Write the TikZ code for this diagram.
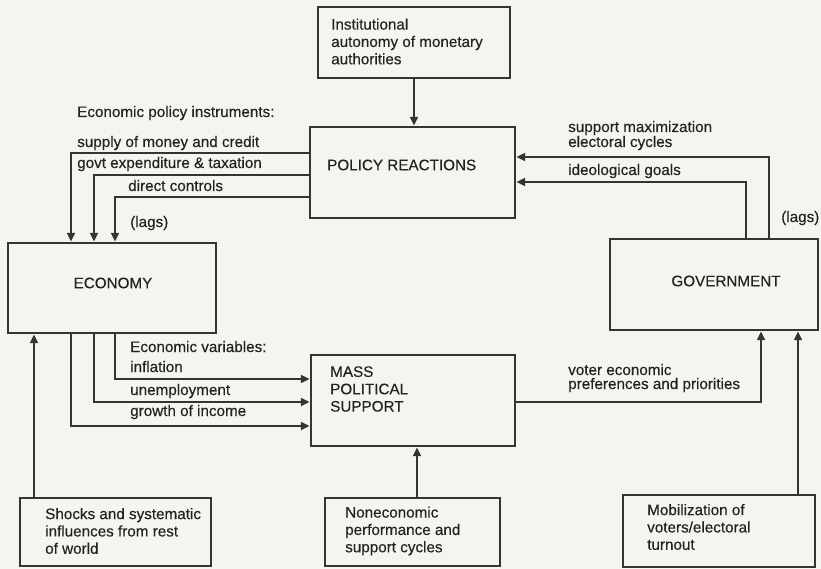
\documentclass[tikz,border=0pt]{standalone}
\usepackage{fontspec}
\setmainfont{Liberation Sans}[FakeBold=0.3]
\usetikzlibrary{arrows.meta}
\definecolor{paper}{RGB}{246,244,239}
\definecolor{ink}{RGB}{52,52,52}
\definecolor{txt}{RGB}{34,34,34}
\begin{document}
\begin{tikzpicture}[x=0.03cm,y=-0.03cm,
  box/.style={draw=ink,line width=2.2pt,inner sep=0pt},
  boxtext/.style={text=txt,align=left,inner sep=0pt,anchor=west,
    font=\fontsize{13}{14.8}\selectfont},
  lbl/.style={text=txt,inner sep=0pt,anchor=base west,
    font=\fontsize{13}{13}\selectfont},
  arr/.style={draw=ink,line width=1.9pt,-{Triangle[length=7.5pt,width=6.5pt]}}]
\fill[paper] (0,0) rectangle (821,569);
\useasboundingbox (0,0) rectangle (821,569);

% boxes
\node[box,minimum width=5.76cm,minimum height=2.13cm] (inst) at (414,42.5) {};
\node[box,minimum width=6.15cm,minimum height=2.73cm] (pol) at (412.5,172.5) {};
\node[box,minimum width=6.24cm,minimum height=2.70cm] (econ) at (112,288) {};
\node[box,minimum width=6.24cm,minimum height=2.73cm] (gov) at (714,284.5) {};
\node[box,minimum width=6.12cm,minimum height=2.73cm] (mass) at (413,400.5) {};
\node[box,minimum width=5.73cm,minimum height=2.04cm] (shocks) at (115.5,532) {};
\node[box,minimum width=5.25cm,minimum height=2.04cm] (nonec) at (412.5,532) {};
\node[box,minimum width=5.76cm,minimum height=2.16cm] (mob) at (719,531) {};

% box texts
\node[boxtext] (instT) at (331,41.5) {Institutional\\autonomy of monetary\\authorities};
\node[boxtext] (polT) at (327,165) {POLICY REACTIONS};
\node[boxtext,anchor=center] (econT) at (113,283) {ECONOMY};
\node[boxtext,anchor=center] (govT) at (726,281) {GOVERNMENT};
\node[boxtext] (massT) at (330,389) {MASS\\POLITICAL\\SUPPORT};
\node[boxtext] (shocksT) at (45,531) {Shocks and systematic\\influences from rest\\of world};
\node[boxtext] (nonecT) at (345,531) {Noneconomic\\performance and\\support cycles};
\node[boxtext] (mobT) at (647,527) {Mobilization of\\voters/electoral\\turnout};

% routing levels
\coordinate (ySupply) at (0,153);
\coordinate (yGovt) at (0,175);
\coordinate (yDirect) at (0,197);
\coordinate (xA) at (71,0);
\coordinate (xB) at (94,0);
\coordinate (xC) at (115,0);
\coordinate (yInfl) at (0,379);
\coordinate (yUnemp) at (0,402);
\coordinate (yGrowth) at (0,426);
\coordinate (xS) at (34,0);
\coordinate (xN) at (417,0);
\coordinate (xG1) at (769,0);
\coordinate (yG1) at (0,157);
\coordinate (xG2) at (746,0);
\coordinate (yG2) at (0,182);
\coordinate (xV) at (761,0);
\coordinate (yV) at (0,402);
\coordinate (xM) at (798,0);

% connectors
\draw[arr] (inst.south) -- (inst.south |- pol.north);
\draw[arr] (pol.west |- ySupply) -| (xA |- econ.north);
\draw[arr] (pol.west |- yGovt) -| (xB |- econ.north);
\draw[arr] (pol.west |- yDirect) -| (xC |- econ.north);
\draw[arr] (xC |- econ.south) |- (mass.west |- yInfl);
\draw[arr] (xB |- econ.south) |- (mass.west |- yUnemp);
\draw[arr] (xA |- econ.south) |- (mass.west |- yGrowth);
\draw[arr] (xS |- shocks.north) -- (xS |- econ.south);
\draw[arr] (xN |- nonec.north) -- (xN |- mass.south);
\draw[arr] (xG1 |- gov.north) |- (pol.east |- yG1);
\draw[arr] (xG2 |- gov.north) |- (pol.east |- yG2);
\draw[arr] (mass.east |- yV) -| (xV |- gov.south);
\draw[arr] (xM |- mob.north) -- (xM |- gov.south);

% connector labels
\node[lbl] (lInstr) at (77,117) {Economic policy instruments:};
\node[lbl] (lSupply) at (77,147) {supply of money and credit};
\node[lbl] (lGovt) at (77,168) {govt expenditure \& taxation};
\node[lbl] (lDirect) at (128,191) {direct controls};
\node[lbl] (lLagsL) at (130,227) {(lags)};
\node[lbl] (lVars) at (130,352) {Economic variables:};
\node[lbl] (lInfl) at (130,372) {inflation};
\node[lbl] (lUnemp) at (130,395) {unemployment};
\node[lbl] (lGrowth) at (130,416) {growth of income};
\node[lbl] (lSupMax) at (568,132) {support maximization};
\node[lbl] (lElect) at (568,147) {electoral cycles};
\node[lbl] (lIdeo) at (568,175) {ideological goals};
\node[lbl] (lLagsR) at (781,222) {(lags)};
\node[lbl] (lVoter) at (568,375) {voter economic};
\node[lbl] (lPref) at (568,389) {preferences and priorities};
\end{tikzpicture}
\end{document}
